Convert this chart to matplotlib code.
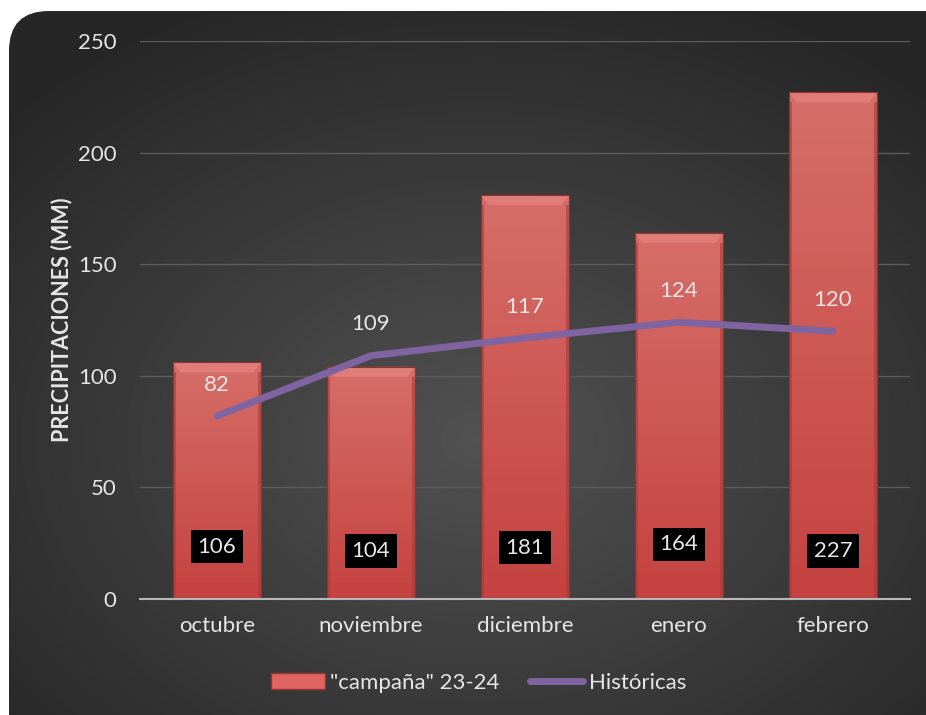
import numpy as np
import matplotlib.pyplot as plt
from matplotlib.patches import FancyBboxPatch, Rectangle, Polygon
from matplotlib.lines import Line2D

plt.rcParams['font.family'] = ['Lato', 'DejaVu Sans']

meses = ["octubre", "noviembre", "diciembre", "enero", "febrero"]
campana = [106, 104, 181, 164, 227]
historicas = [82, 109, 117, 124, 120]
lbl_bar_y = [23.5, 21.5, 23, 24.5, 21.5]

txt_col = "#e6e6e6"

fig = plt.figure(figsize=(9.26, 7.15), dpi=100)
fig.patch.set_facecolor("white")

# rounded dark background with radial gradient
bg = fig.add_axes([0, 0, 1, 1], zorder=-10)
bg.set_xlim(0, 926)
bg.set_ylim(715, 0)
bg.axis("off")
yy, xx = np.mgrid[0:715, 0:926]
d = np.sqrt(((xx - 480) / 650.0) ** 2 + ((yy - 440) / 480.0) ** 2)
shade = np.clip(0.32 - 0.17 * d, 0.15, 0.32)
img = bg.imshow(np.dstack([shade, shade, shade]), extent=(0, 926, 715, 0), zorder=0)
box = FancyBboxPatch((9, 11), 960, 760, boxstyle="round,pad=0,rounding_size=40",
                     transform=bg.transData, facecolor="none", edgecolor="none")
bg.add_patch(box)
img.set_clip_path(box)

ax = fig.add_axes([0.1512, 0.1622, 0.8315, 0.7805])
ax.set_facecolor("none")
x = np.arange(len(meses))
w = 0.57

bars = ax.bar(x, campana, width=w, color="#cd4f4c", edgecolor="#9c3532", linewidth=0.8, zorder=3)
for b in bars:
    x0, h = b.get_x(), b.get_height()
    grad = np.linspace(0, 1, 100).reshape(-1, 1)
    top = np.array([0.84, 0.43, 0.41])
    bot = np.array([0.77, 0.26, 0.25])
    col = top + (bot - top) * grad
    im = ax.imshow(col.reshape(100, 1, 3), extent=(x0, x0 + w, 0, h), aspect="auto", zorder=3.5)
    im.set_clip_path(b)
    bev = 4.5
    ax.add_patch(Polygon([[x0, h], [x0 + w, h], [x0 + w - 0.05, h - bev], [x0 + 0.05, h - bev]],
                         closed=True, facecolor="#e07d78", edgecolor="none", zorder=4))
    # darker side edges
    ax.add_patch(Rectangle((x0, 0), 0.02, h - bev, facecolor="#a93b38", edgecolor="none", alpha=0.6, zorder=4))
    ax.add_patch(Rectangle((x0 + w - 0.02, 0), 0.02, h - bev, facecolor="#a93b38", edgecolor="none", alpha=0.6, zorder=4))
    ax.add_patch(Rectangle((x0, 0), w, h, facecolor="none", edgecolor="#93312e", linewidth=0.8, zorder=4))

ax.plot(x, historicas, color="#8064a2", linewidth=5, solid_capstyle="round",
        solid_joinstyle="round", zorder=5)

for i in range(len(meses)):
    ax.text(x[i], historicas[i] + 14, str(historicas[i]), ha="center", va="center",
            color=txt_col, fontsize=16, zorder=6)
    ax.text(x[i], lbl_bar_y[i], str(campana[i]), ha="center", va="center", color=txt_col,
            fontsize=16, zorder=6,
            bbox=dict(boxstyle="square,pad=0.3", facecolor="black", edgecolor="none"))

ax.set_xlim(-0.5, 4.5)
ax.set_ylim(0, 250)
ax.set_yticks([0, 50, 100, 150, 200, 250])
ax.set_xticks(x)
ax.set_xticklabels(meses)
ax.grid(axis="y", color="#5c5c5c", linewidth=1, zorder=0)
ax.set_axisbelow(True)
for s in ["top", "right", "left"]:
    ax.spines[s].set_visible(False)
ax.spines["bottom"].set_color("#b8b8b8")
ax.spines["bottom"].set_linewidth(1.5)
ax.spines["bottom"].set_zorder(6)
ax.tick_params(axis="both", length=0, colors=txt_col, labelsize=16)
ax.tick_params(axis="x", pad=12)
ax.tick_params(axis="y", pad=17)
ax.set_ylabel("PRECIPITACIONES (MM)", color=txt_col, fontsize=15.5, fontweight="bold", labelpad=4)

handles = [Rectangle((0, 0), 1, 1, facecolor="#e06460", edgecolor="#9c3532"),
           Line2D([0], [0], color="#8064a2", linewidth=5, solid_capstyle="round")]
leg = fig.legend(handles, ['"campaña" 23-24', "Históricas"], loc="center",
                 bbox_to_anchor=(0.517, 0.045), ncol=2, frameon=False, fontsize=16,
                 handlelength=2.4, handletextpad=0.25, columnspacing=1.35)
for t in leg.get_texts():
    t.set_color(txt_col)

fig.savefig("out.png", dpi=100, facecolor="white")
